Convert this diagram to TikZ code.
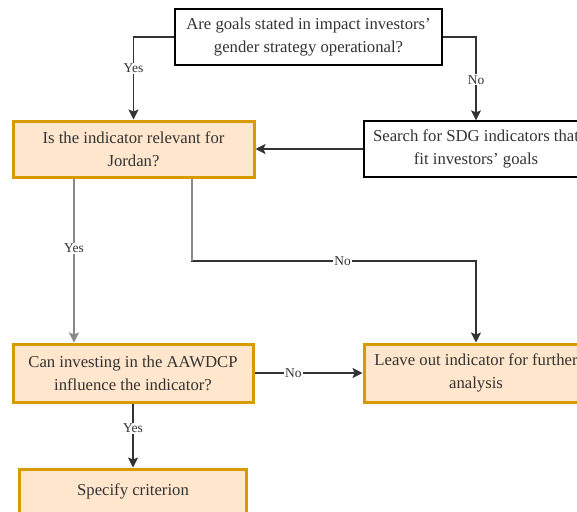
\documentclass[tikz,border=0pt]{standalone}
\usepackage{fontspec}
\setmainfont{Liberation Serif}
\usetikzlibrary{arrows.meta}
\definecolor{boxfill}{HTML}{FFE6CC}
\definecolor{boxline}{HTML}{D79B00}
\definecolor{txt}{HTML}{333333}
\definecolor{linkdark}{HTML}{333333}
\definecolor{linkgray}{HTML}{888888}
\newcommand{\apos}{\symbol{39}}
\tikzset{
  plainbox/.style={draw=black, line width=1.3pt, fill=white, align=center,
    inner sep=0pt, text=txt, font=\fontsize{16.7}{23}\selectfont},
  hlbox/.style={plainbox, draw=boxline, fill=boxfill, line width=3pt},
  link/.style={draw=linkdark, line width=1.3pt,
    -{Stealth[length=10pt,width=10pt,inset=2pt]}},
  graylink/.style={link, draw=linkgray, line width=1.6pt},
  lbl/.style={fill=white, inner sep=1pt, text=txt,
    font=\fontsize{13.5}{15}\selectfont}
}
\begin{document}
\begin{tikzpicture}[x=1pt,y=-1pt]
  \useasboundingbox (0,0) rectangle (577,511);

  % decision and action boxes
  \node[plainbox, minimum width=267pt, minimum height=56pt] (goals) at (308.5,37)
    {Are goals stated in impact investors\apos\\gender strategy operational?};
  \node[hlbox, minimum width=241pt, minimum height=56pt] (jordan) at (133.5,149)
    {Is the indicator relevant for\\Jordan?};
  \node[plainbox, minimum width=224pt, minimum height=56pt] (search) at (476,149)
    {Search for SDG indicators that\\fit investors\apos{} goals};
  \node[hlbox, minimum width=240pt, minimum height=58pt] (can) at (133,373)
    {Can investing in the AAWDCP\\influence the indicator?};
  \node[hlbox, minimum width=224pt, minimum height=58pt] (leave) at (476,373)
    {Leave out indicator for further\\analysis};
  \node[hlbox, minimum width=227pt, minimum height=44pt] (spec) at (133,491)
    {Specify criterion};

  % routing points
  \coordinate (yesx) at (74,0);
  \coordinate (nox) at (192,0);
  \coordinate (bend) at (192,261);

  % connectors
  \draw[link] (goals.west) -| node[lbl, pos=0.69] {Yes} (jordan.north);
  \draw[link] (goals.east) -| node[lbl, pos=0.756] {No} (search.north);
  \draw[link] (search.west) -- (jordan.east);
  \draw[graylink] (jordan.south -| yesx) -- node[lbl, pos=0.425] {Yes} (can.north -| yesx);
  \draw[link] (jordan.south -| nox) -- (bend) -| node[lbl, pos=0.265] {No} (leave.north);
  \draw[draw=linkgray, line width=1.6pt] (jordan.south -| nox) -- (bend);
  \draw[link] (can.east) -- node[lbl, pos=0.36] {No} (leave.west);
  \draw[link] (can.south) -- node[lbl, pos=0.39] {Yes} (spec.north);
\end{tikzpicture}
\end{document}
